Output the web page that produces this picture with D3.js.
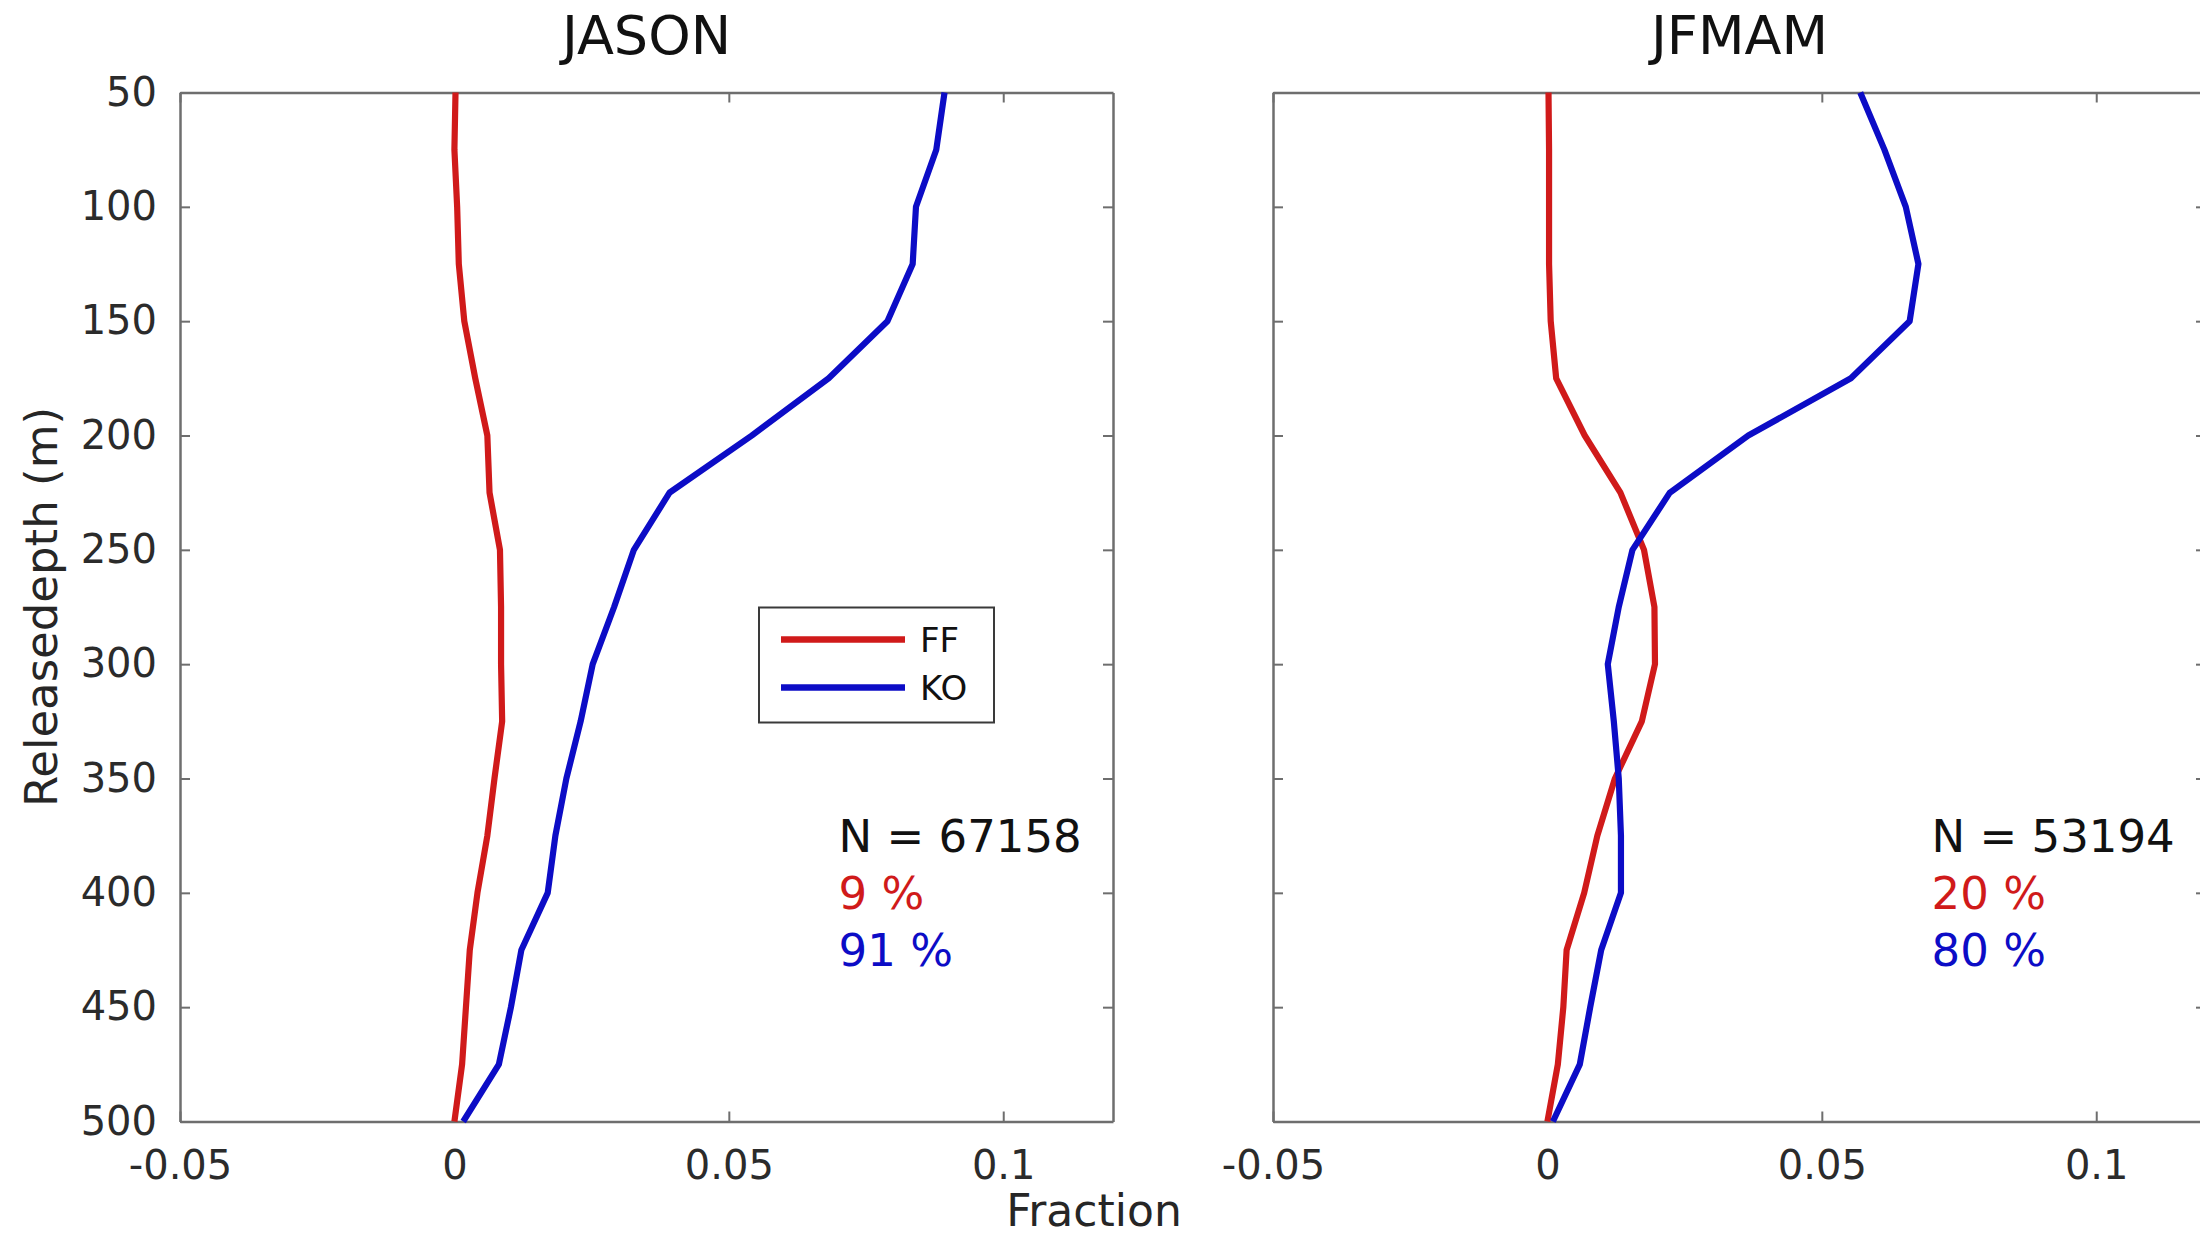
<!DOCTYPE html>
<html>
<head>
<meta charset="utf-8">
<script src="https://cdn.jsdelivr.net/npm/d3@7"></script>
<style>
  html, body { margin: 0; padding: 0; background: #fff; }
  svg { display: block; font-family: "DejaVu Sans", sans-serif; }
</style>
</head>
<body>
<svg id="chart" width="2200" height="1235"></svg>
<script>
// Release depths (m), sampled every 25 m
const depths = [50, 75, 100, 125, 150, 175, 200, 225, 250, 275, 300, 325, 350, 375, 400, 425, 450, 475, 500];

// JASON season: fraction per depth
const jasonFF = [0.0002, 0.0000, 0.0005, 0.0008, 0.0018, 0.0038, 0.0060, 0.0064, 0.0083, 0.0085, 0.0085, 0.0087, 0.0073, 0.0060, 0.0042, 0.0028, 0.0021, 0.0014, 0.0000];
const jasonKO = [0.0893, 0.0878, 0.0841, 0.0835, 0.0789, 0.0682, 0.0542, 0.0392, 0.0327, 0.0291, 0.0252, 0.0230, 0.0204, 0.0184, 0.0170, 0.0122, 0.0103, 0.0081, 0.0016];

// JFMAM season: fraction per depth
const jfmamFF = [0.0002, 0.0003, 0.0003, 0.0003, 0.0006, 0.0016, 0.0068, 0.0133, 0.0176, 0.0195, 0.0196, 0.0172, 0.0123, 0.0091, 0.0067, 0.0035, 0.0029, 0.0019, 0.0000];
const jfmamKO = [0.0570, 0.0614, 0.0653, 0.0676, 0.0660, 0.0553, 0.0366, 0.0223, 0.0155, 0.0130, 0.0110, 0.0121, 0.0130, 0.0134, 0.0134, 0.0098, 0.0078, 0.0059, 0.0010];

const panelTitles = ["JASON", "JFMAM"];
const seriesNames = ["FF", "KO"];
const seriesColors = ["#d01a1a", "#0c0cc6"];
const totals = ["N = 67158", "N = 53194"];
const shareFF = ["9 %", "20 %"];
const shareKO = ["91 %", "80 %"];

const xTicks = [-0.05, 0, 0.05, 0.1];
const yTicks = [50, 100, 150, 200, 250, 300, 350, 400, 450, 500];

const svg = d3.select("#chart");

const W = 933, H = 1029;
const plotTop = 92.5;
const panelLeft = [180, 1273];

const x = d3.scaleLinear().domain([-0.05, 0.12]).range([0, W]);
const y = d3.scaleLinear().domain([50, 500]).range([0, H]);

const axisColor = "#6e6e6e";
const tickText = "#2b2b2b";

const fmt = d => (d === 0 ? "0" : String(d));

const panels = [
  { ff: jasonFF, ko: jasonKO },
  { ff: jfmamFF, ko: jfmamKO }
];

const line = d3.line()
  .x(d => x(d.v))
  .y(d => y(d.depth));

panels.forEach((p, i) => {
  const g = svg.append("g").attr("transform", `translate(${panelLeft[i]},${plotTop})`);

  // white plotting area
  g.append("rect").attr("width", W).attr("height", H).attr("fill", "#fff");

  // axes with inward ticks on all four sides
  const bottom = g.append("g").attr("transform", `translate(0,${H})`)
    .call(d3.axisBottom(x).tickValues(xTicks).tickFormat(fmt).tickSizeInner(-10).tickSizeOuter(0).tickPadding(29));
  const topAx = g.append("g")
    .call(d3.axisTop(x).tickValues(xTicks).tickFormat("").tickSizeInner(-10).tickSizeOuter(0));
  const left = g.append("g")
    .call(d3.axisLeft(y).tickValues(yTicks).tickFormat(i === 0 ? d3.format("d") : "").tickSizeInner(-10).tickSizeOuter(0).tickPadding(23));
  const right = g.append("g").attr("transform", `translate(${W},0)`)
    .call(d3.axisRight(y).tickValues(yTicks).tickFormat("").tickSizeInner(-10).tickSizeOuter(0));

  [bottom, topAx, left, right].forEach(a => {
    a.select(".domain").attr("stroke", axisColor).attr("stroke-width", 2.5);
    a.selectAll(".tick line").attr("stroke", axisColor).attr("stroke-width", 2);
    a.selectAll(".tick text").attr("fill", tickText)
      .style("font-family", "'DejaVu Sans', sans-serif").style("font-size", "40px");
  });

  // profiles
  [p.ff, p.ko].forEach((vals, s) => {
    const pts = depths.map((d, k) => ({ depth: d, v: vals[k] }));
    g.append("path")
      .datum(pts)
      .attr("d", line)
      .attr("fill", "none")
      .attr("stroke", seriesColors[s])
      .attr("stroke-width", 6.2)
      .attr("stroke-linejoin", "round");
  });

  // title
  g.append("text")
    .attr("x", W / 2).attr("y", 54 - plotTop)
    .attr("text-anchor", "middle")
    .attr("fill", "#111")
    .style("font-size", "54px")
    .text(panelTitles[i]);

  // sample size and shares
  const tx = x(0.07);
  g.append("text").attr("x", tx).attr("y", y(382)).attr("fill", "#111")
    .style("font-size", "45px").text(totals[i]);
  g.append("text").attr("x", tx).attr("y", y(407)).attr("fill", seriesColors[0])
    .style("font-size", "45px").text(shareFF[i]);
  g.append("text").attr("x", tx).attr("y", y(432)).attr("fill", seriesColors[1])
    .style("font-size", "45px").text(shareKO[i]);

  // legend in the first panel
  if (i === 0) {
    const lg = g.append("g").attr("transform", "translate(579,515)");
    lg.append("rect").attr("width", 235).attr("height", 115)
      .attr("fill", "#fff").attr("stroke", "#3a3a3a").attr("stroke-width", 2);
    seriesNames.forEach((name, s) => {
      const cy = 32 + s * 48;
      lg.append("line").attr("x1", 22).attr("x2", 146).attr("y1", cy).attr("y2", cy)
        .attr("stroke", seriesColors[s]).attr("stroke-width", 6.5);
      lg.append("text").attr("x", 161).attr("y", cy + 12.5)
        .attr("fill", "#111").style("font-size", "34px").text(name);
    });
  }
});

// shared axis labels
svg.append("text")
  .attr("transform", "translate(57,607) rotate(-90)")
  .attr("text-anchor", "middle")
  .attr("fill", "#262626")
  .style("font-size", "45px")
  .text("Releasedepth (m)");

svg.append("text")
  .attr("x", 1094).attr("y", 1226)
  .attr("text-anchor", "middle")
  .attr("fill", "#262626")
  .style("font-size", "44px")
  .text("Fraction");
</script>
</body>
</html>
